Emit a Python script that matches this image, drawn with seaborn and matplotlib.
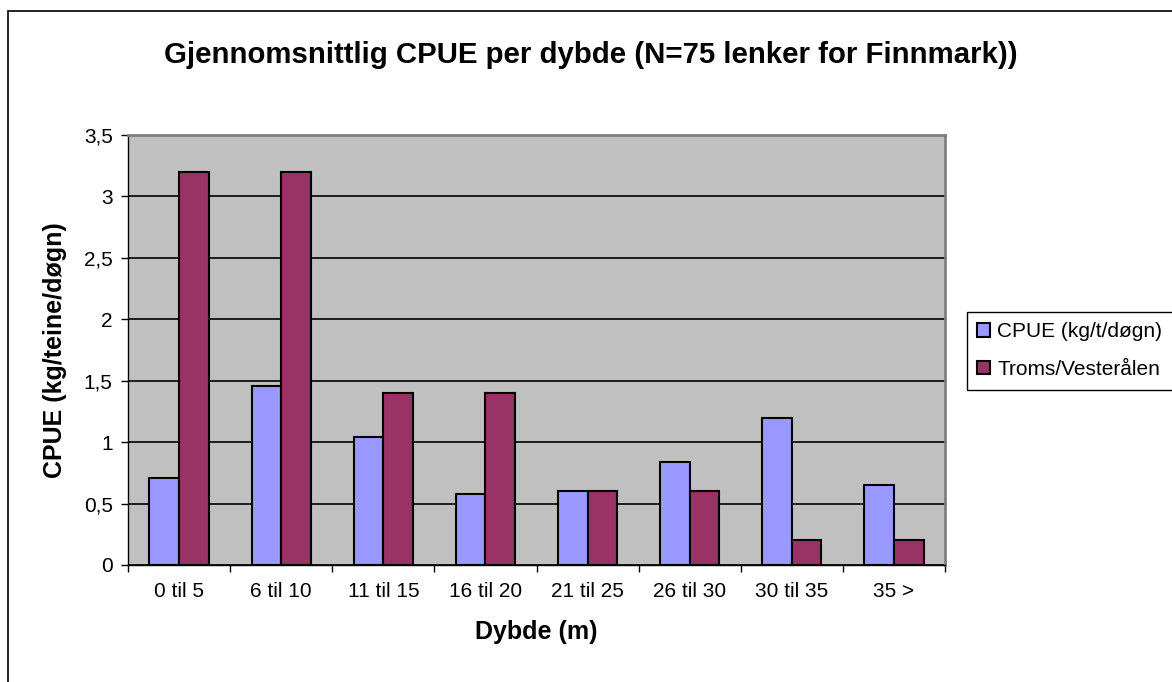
import matplotlib
matplotlib.use("Agg")
import matplotlib.pyplot as plt
import seaborn as sns
import pandas as pd
from matplotlib.patches import Rectangle

categories = ["0 til 5", "6 til 10", "11 til 15", "16 til 20", "21 til 25", "26 til 30", "30 til 35", "35 >"]
cpue_finnmark = [0.71, 1.46, 1.04, 0.58, 0.60, 0.84, 1.20, 0.65]
troms_vesteralen = [3.20, 3.20, 1.40, 1.40, 0.60, 0.60, 0.20, 0.20]
series_names = ["CPUE (kg/t/døgn)", "Troms/Vesterålen"]
yticks = [0, 0.5, 1, 1.5, 2, 2.5, 3, 3.5]
ytick_labels = ["0", "0,5", "1", "1,5", "2", "2,5", "3", "3,5"]

df = pd.DataFrame({
    "Dybde": categories * 2,
    "CPUE": cpue_finnmark + troms_vesteralen,
    "Serie": [series_names[0]] * len(categories) + [series_names[1]] * len(categories),
})

sns.set_theme(style="white")
plt.rcParams["font.family"] = ["Liberation Sans", "DejaVu Sans"]
plt.rcParams["text.color"] = "black"
plt.rcParams["axes.labelcolor"] = "black"
plt.rcParams["xtick.color"] = "black"
plt.rcParams["ytick.color"] = "black"

fig = plt.figure(figsize=(11.72, 6.82), dpi=100)
ax = fig.add_axes([128 / 1172, 1 - 565 / 682, (945 - 128) / 1172, (565 - 135) / 682])
ax.set_facecolor("#C0C0C0")

sns.barplot(data=df, x="Dybde", y="CPUE", hue="Serie", order=categories,
            hue_order=series_names, palette=["#9999FF", "#993366"],
            width=0.58, edgecolor="black", linewidth=1.5, saturation=1,
            ax=ax, legend=True)

ax.set_ylim(0, 3.5)
ax.set_xlim(-0.5, len(categories) - 0.5)
ax.set_yticks(yticks)
ax.set_yticklabels(ytick_labels, fontsize=15)
ax.yaxis.grid(True, color="black", linewidth=1.2)
ax.set_axisbelow(True)

ax.set_xticks([i for i in range(len(categories))])
ax.set_xticklabels(categories, fontsize=15)
ax.tick_params(axis="x", length=0, pad=12)
ax.set_xticks([i - 0.5 for i in range(len(categories) + 1)], minor=True)
ax.tick_params(axis="x", which="minor", length=5, width=1, color="black", direction="out", bottom=True)
ax.tick_params(axis="y", length=5, width=1, color="black", direction="out", left=True, pad=6)

for side in ["top", "right"]:
    ax.spines[side].set_color("#808080")
    ax.spines[side].set_linewidth(2)
ax.spines["left"].set_color("black")
ax.spines["bottom"].set_color("black")
ax.spines["left"].set_linewidth(1)
ax.spines["bottom"].set_linewidth(1)

ax.set_xlabel("Dybde (m)", fontsize=18, fontweight="bold", labelpad=14)
ax.set_ylabel("CPUE (kg/teine/døgn)", fontsize=18, fontweight="bold", labelpad=12)

fig.text(591 / 1172, 1 - 55 / 682, "Gjennomsnittlig CPUE per dybde (N=75 lenker for Finnmark))",
         ha="center", va="center", fontsize=21.2, fontweight="bold")

leg = ax.legend(loc="upper left", bbox_to_anchor=(967 / 1172, 1 - 312 / 682),
                bbox_transform=fig.transFigure, fontsize=15, frameon=True,
                fancybox=False, edgecolor="black", framealpha=1,
                handlelength=0.6, handleheight=0.6, handletextpad=0.35,
                borderpad=0.5, labelspacing=0.9, borderaxespad=0)
leg.get_frame().set_linewidth(1)

fig.patches.append(Rectangle((8 / 1172, -0.2), 1.2, 1.2 - 11 / 682, transform=fig.transFigure,
                             fill=False, edgecolor="black", linewidth=1.2))

fig.savefig("out.png", dpi=100)
